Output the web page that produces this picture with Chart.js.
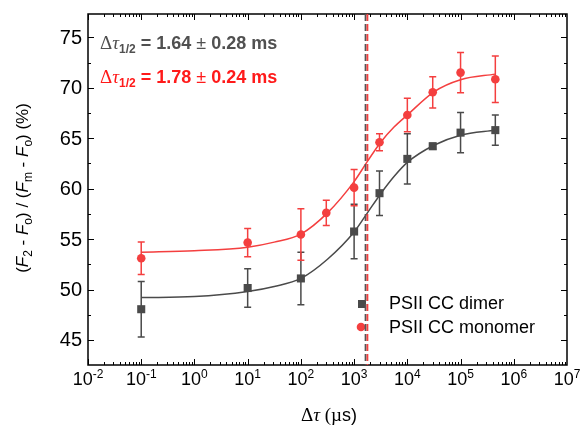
<!DOCTYPE html>
<html>
<head>
<meta charset="utf-8">
<script src="https://cdn.jsdelivr.net/npm/chart.js@4/dist/chart.umd.min.js"></script>
<style>
  html, body { margin: 0; padding: 0; background: #fff; }
  #wrap { width: 582px; height: 427px; }
</style>
</head>
<body>
<div id="wrap"><canvas id="myChart" width="582" height="427"></canvas></div>
<script>
const dimerX = [0.1, 10, 100, 1000, 3000, 10000, 30000, 100000, 450000];
const dimerY = [48.05, 50.15, 51.1, 55.75, 59.55, 62.95, 64.2, 65.55, 65.8];
const dimerErr = [2.75, 1.9, 2.6, 2.7, 2.2, 2.5, 0.3, 2.0, 1.5];

const monoX = [0.1, 10, 100, 300, 1000, 3000, 10000, 30000, 100000, 450000];
const monoY = [53.1, 54.65, 55.45, 57.6, 60.1, 64.6, 67.3, 69.55, 71.5, 70.85];
const monoErr = [1.6, 1.4, 2.55, 1.25, 1.8, 0.85, 1.65, 1.55, 2.0, 2.3];

// fitted curves
const fitX = [0.1, 1, 10, 31.6, 100, 316, 1000, 1778, 3162, 5623, 10000, 31623, 100000, 450000];
const dimerFit = [49.2, 49.3, 49.8, 50.3, 51.1, 53.0, 55.7, 57.6, 59.5, 61.2, 62.6, 64.3, 65.3, 65.8];
const monoFit = [53.7, 53.85, 54.2, 54.7, 55.5, 57.6, 60.7, 62.7, 64.6, 66.1, 67.3, 69.6, 70.8, 71.35];

// half-times (us) for the dashed markers
const tauDimer = 1640;
const tauMono = 1780;

const xExponents = [-2, -1, 0, 1, 2, 3, 4, 5, 6, 7];
const yTickValues = [45, 50, 55, 60, 65, 70, 75];
const yMinorValues = [47.5, 52.5, 57.5, 62.5, 67.5, 72.5];

const legendNames = ['PSII CC dimer', 'PSII CC monomer'];

const GREY = '#4a4a4a';
const RED = '#f43f3f';
const SANS = '"Liberation Sans", Arial, sans-serif';
const SERIF = '"Liberation Serif", "Times New Roman", serif';

function pts(xs, ys) {
  return xs.map((x, i) => ({ x: x, y: ys[i] }));
}

// draw a run of text pieces [{t, font, dy, color}] starting at x
function drawRuns(ctx, runs, x, y, align) {
  let total = 0;
  runs.forEach(r => { ctx.font = r.font; r.w = ctx.measureText(r.t).width; total += r.w; });
  let cx = align === 'center' ? x - total / 2 : x;
  ctx.textAlign = 'left';
  ctx.textBaseline = 'alphabetic';
  runs.forEach(r => {
    ctx.font = r.font;
    ctx.fillStyle = r.color || '#000';
    ctx.fillText(r.t, cx, y + (r.dy || 0));
    cx += r.w;
  });
}

const errorBars = {
  id: 'errorBars',
  beforeDatasetsDraw(chart) {
    const ctx = chart.ctx;
    const xs = chart.scales.x, ys = chart.scales.y;
    const sets = [[dimerX, dimerY, dimerErr, GREY], [monoX, monoY, monoErr, RED]];
    ctx.save();
    ctx.lineWidth = 1.5;
    sets.forEach(([X, Y, E, col]) => {
      ctx.strokeStyle = col;
      X.forEach((xv, i) => {
        const px = xs.getPixelForValue(xv);
        const top = ys.getPixelForValue(Y[i] + E[i]);
        const bot = ys.getPixelForValue(Y[i] - E[i]);
        ctx.beginPath();
        ctx.moveTo(px, top); ctx.lineTo(px, bot);
        ctx.moveTo(px - 3.5, top); ctx.lineTo(px + 3.5, top);
        ctx.moveTo(px - 3.5, bot); ctx.lineTo(px + 3.5, bot);
        ctx.stroke();
      });
    });
    ctx.restore();
  }
};

const frame = {
  id: 'frame',
  afterDraw(chart) {
    const ctx = chart.ctx;
    const xs = chart.scales.x, ys = chart.scales.y;
    const a = chart.chartArea;
    ctx.save();

    // axis box
    ctx.strokeStyle = '#000';
    ctx.lineWidth = 1.5;
    ctx.strokeRect(a.left, a.top, a.right - a.left, a.bottom - a.top);

    // x ticks (log), inward on bottom and top
    ctx.lineWidth = 1;
    ctx.beginPath();
    for (let d = -2; d <= 6; d++) {
      for (let k = 1; k <= 9; k++) {
        const v = k * Math.pow(10, d);
        const px = Math.round(xs.getPixelForValue(v)) + 0.5;
        const len = k === 1 ? 6 : 3;
        ctx.moveTo(px, a.bottom); ctx.lineTo(px, a.bottom - len);
        ctx.moveTo(px, a.top); ctx.lineTo(px, a.top + len);
      }
    }
    // y ticks, inward on left and right
    yTickValues.concat(yMinorValues).forEach(v => {
      const py = Math.round(ys.getPixelForValue(v)) + 0.5;
      const len = yTickValues.includes(v) ? 6 : 3;
      ctx.moveTo(a.left, py); ctx.lineTo(a.left + len, py);
      ctx.moveTo(a.right, py); ctx.lineTo(a.right - len, py);
    });
    ctx.stroke();

    // y tick labels
    ctx.fillStyle = '#000';
    ctx.font = '20px ' + SANS;
    ctx.textAlign = 'right';
    ctx.textBaseline = 'middle';
    yTickValues.forEach(v => {
      ctx.fillText(String(v), a.left - 6, ys.getPixelForValue(v) + 1);
    });

    // x tick labels 10^n
    xExponents.forEach(e => {
      const px = xs.getPixelForValue(Math.pow(10, e));
      drawRuns(ctx, [
        { t: '10', font: '18px ' + SANS },
        { t: String(e), font: '12px ' + SANS, dy: -7 }
      ], px, a.bottom + 20, 'center');
    });

    // x title
    drawRuns(ctx, [
      { t: '\u0394', font: '19px ' + SERIF },
      { t: '\u03c4', font: 'italic 19px ' + SERIF },
      { t: ' (\u00b5', font: '19px ' + SERIF },
      { t: 's)', font: '18px ' + SANS }
    ], 329, 421, 'center');

    // y title (rotated)
    ctx.save();
    ctx.translate(28, 188);
    ctx.rotate(-Math.PI / 2);
    const f = '17px ' + SANS, fi = 'italic 17px ' + SANS, fs = '12px ' + SANS;
    drawRuns(ctx, [
      { t: '(', font: f }, { t: 'F', font: fi }, { t: '2', font: fs, dy: 4 },
      { t: ' - ', font: f }, { t: 'F', font: fi }, { t: 'o', font: fs, dy: 4 },
      { t: ') / (', font: f }, { t: 'F', font: fi }, { t: 'm', font: fs, dy: 4 },
      { t: ' - ', font: f }, { t: 'F', font: fi }, { t: 'o', font: fs, dy: 4 },
      { t: ') (%)', font: f }
    ], 0, 0, 'center');
    ctx.restore();

    // half-time annotations
    const note = (val, err, col, y) => {
      drawRuns(ctx, [
        { t: '\u0394', font: '19px ' + SERIF, color: col },
        { t: '\u03c4', font: 'italic 19px ' + SERIF, color: col },
        { t: '1/2', font: 'bold 12px ' + SANS, dy: 4, color: col },
        { t: ' = ' + val + ' ', font: 'bold 18px ' + SANS, color: col },
        { t: '\u00b1', font: '18px ' + SANS, color: col },
        { t: ' ' + err + ' ms', font: 'bold 18px ' + SANS, color: col }
      ], 100, y, 'left');
    };
    note('1.64', '0.28', '#505050', 49);
    note('1.78', '0.24', '#ff1a1a', 83);

    // legend
    ctx.fillStyle = GREY;
    ctx.fillRect(358, 300, 8, 8);
    ctx.fillStyle = RED;
    ctx.beginPath();
    ctx.arc(361, 327, 4.3, 0, Math.PI * 2);
    ctx.fill();
    ctx.fillStyle = '#000';
    ctx.font = '18px ' + SANS;
    ctx.textAlign = 'left';
    ctx.textBaseline = 'middle';
    ctx.fillText(legendNames[0], 389, 304);
    ctx.fillText(legendNames[1], 389, 328);

    // dashed half-time lines
    ctx.lineWidth = 1.8;
    ctx.setLineDash([7, 3]);
    [[tauDimer, '#555555'], [tauMono, RED]].forEach(([t, col]) => {
      const px = xs.getPixelForValue(t);
      ctx.strokeStyle = col;
      ctx.beginPath();
      ctx.moveTo(px, a.top);
      ctx.lineTo(px, a.bottom);
      ctx.stroke();
    });
    ctx.restore();
  }
};

const canvas = document.getElementById('myChart');
new Chart(canvas.getContext('2d'), {
  type: 'scatter',
  data: {
    datasets: [
      {
        label: 'dimer fit',
        data: pts(fitX, dimerFit),
        showLine: true,
        borderColor: GREY,
        borderWidth: 1.5,
        pointRadius: 0,
        cubicInterpolationMode: 'monotone'
      },
      {
        label: 'monomer fit',
        data: pts(fitX, monoFit),
        showLine: true,
        borderColor: RED,
        borderWidth: 1.5,
        pointRadius: 0,
        cubicInterpolationMode: 'monotone'
      },
      {
        label: legendNames[0],
        data: pts(dimerX, dimerY),
        showLine: false,
        pointStyle: 'rect',
        pointRadius: 5.7,
        pointBorderWidth: 0,
        backgroundColor: GREY,
        borderColor: GREY
      },
      {
        label: legendNames[1],
        data: pts(monoX, monoY),
        showLine: false,
        pointStyle: 'circle',
        pointRadius: 4.3,
        pointBorderWidth: 0,
        backgroundColor: RED,
        borderColor: RED
      }
    ]
  },
  options: {
    responsive: false,
    animation: false,
    layout: { padding: { left: 88, right: 15, top: 14, bottom: 62 } },
    plugins: { legend: { display: false }, tooltip: { enabled: false } },
    scales: {
      x: { type: 'logarithmic', min: 0.01, max: 1e7, display: false },
      y: { type: 'linear', min: 42.52, max: 77.31, display: false }
    }
  },
  plugins: [errorBars, frame]
});
</script>
</body>
</html>
